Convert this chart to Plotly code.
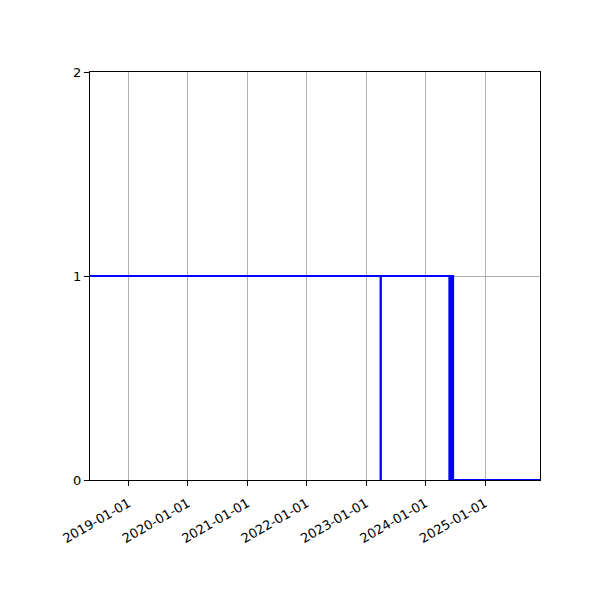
import plotly.graph_objects as go

# step signal: 1 = on, 0 = off
dates = [
    '2018-05-10', '2023-03-31', '2023-04-02',
    '2024-05-27', '2024-05-30', '2024-06-02', '2024-06-05', '2024-06-08',
    '2024-06-11', '2024-06-14', '2024-06-17', '2024-06-19', '2025-12-05',
]
values = [1, 0, 1, 0, 1, 0, 1, 0, 1, 0, 1, 0, 0]

tick_dates = ['2019-01-01', '2020-01-01', '2021-01-01', '2022-01-01',
              '2023-01-01', '2024-01-01', '2025-01-01']

fig = go.Figure()
fig.add_scatter(
    x=dates,
    y=values,
    mode='lines',
    line={'shape': 'hv', 'color': '#0000ff', 'width': 2},
    showlegend=False,
)

axis_common = dict(
    showline=True,
    linecolor='black',
    linewidth=1,
    mirror=True,
    ticks='outside',
    ticklen=5,
    tickcolor='black',
    showgrid=True,
    gridcolor='#b0b0b0',
    gridwidth=1,
    zeroline=False,
    layer='below traces',
    tickfont={'family': 'DejaVu Sans', 'size': 13, 'color': 'black'},
)

fig.update_layout(
    width=600,
    height=600,
    margin={'l': 82, 'r': 68, 't': 64, 'b': 128},
    plot_bgcolor='white',
    paper_bgcolor='white',
    xaxis=dict(
        axis_common,
        type='date',
        range=[dates[0], dates[-1]],
        tickvals=tick_dates,
        ticktext=tick_dates,
        tickangle=-30,
        ticklabelstandoff=5,
    ),
    yaxis=dict(
        axis_common,
        range=[0, 2],
        tickvals=[0, 1, 2],
    ),
)

fig.write_html('out.html')
